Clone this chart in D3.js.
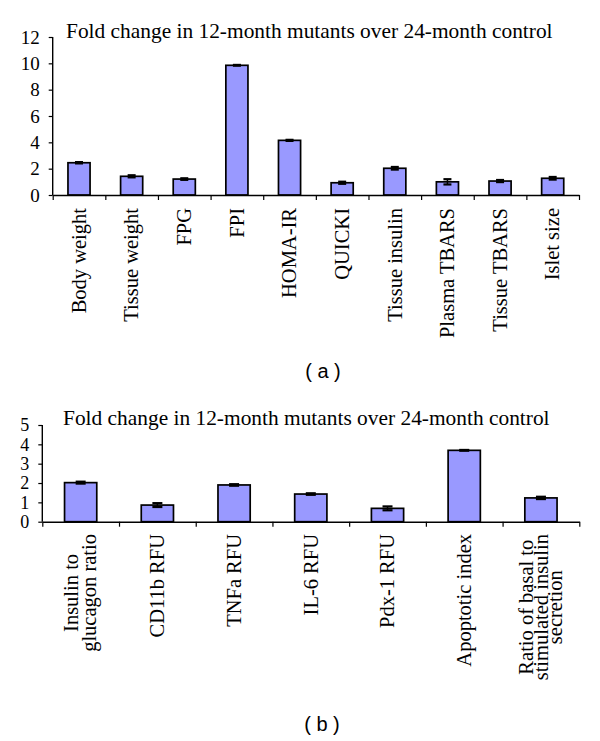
<!DOCTYPE html>
<html>
<head>
<meta charset="utf-8">
<script src="https://cdn.jsdelivr.net/npm/d3@7"></script>
<style>
  html, body { margin: 0; padding: 0; background: #fff; }
  svg { display: block; }
  text { font-family: "Liberation Serif", "Times New Roman", serif; fill: #000; }
  .panel-tag { font-family: "Liberation Sans", Arial, sans-serif; }
</style>
</head>
<body>
<svg id="chart" width="600" height="741"></svg>
<script>
// ---------- data ----------
const titleText = "Fold change in 12-month mutants over 24-month control";

const categoriesA = ["Body weight", "Tissue weight", "FPG", "FPI", "HOMA-IR", "QUICKI",
  "Tissue insulin", "Plasma TBARS", "Tissue TBARS", "Islet size"];
const valuesA = [2.45, 1.42, 1.21, 9.85, 4.15, 0.93, 2.03, 1.00, 1.06, 1.27];
const errorsA = [0.05, 0.08, 0.06, 0.03, 0.04, 0.08, 0.10, 0.20, 0.08, 0.10];
const ticksA = [0, 2, 4, 6, 8, 10, 12];

const categoriesB = ["Insulin to\nglucagon ratio", "CD11b RFU", "TNFa RFU", "IL-6 RFU",
  "Pdx-1 RFU", "Apoptotic index", "Ratio of basal to\nstimulated insulin\nsecretion"];
const valuesB = [2.02, 0.86, 1.90, 1.43, 0.69, 3.69, 1.23];
const errorsB = [0.05, 0.10, 0.04, 0.04, 0.10, 0.02, 0.06];
const ticksB = [0, 1, 2, 3, 4, 5];

// ---------- drawing ----------
const svg = d3.select("#chart");
const BAR_FILL = "#9999ff";
const SERIF = '"Liberation Serif", "Times New Roman", serif';

function drawPanel(cfg) {
  const g = svg.append("g");
  const x = d3.scaleBand().domain(cfg.cats.map((c, i) => i))
    .range([cfg.x0, cfg.x1]).paddingInner(0.58).paddingOuter(0.29);
  const y = d3.scaleLinear().domain([0, cfg.ymax]).range([cfg.yBase, cfg.yTop]);

  // bars
  g.selectAll("rect.bar").data(cfg.vals).join("rect")
    .attr("class", "bar")
    .attr("x", (d, i) => x(i))
    .attr("width", x.bandwidth())
    .attr("y", d => y(d))
    .attr("height", d => y(0) - y(d))
    .attr("fill", BAR_FILL)
    .attr("stroke", "#000")
    .attr("stroke-width", 1.7);

  // error bars
  const eb = g.selectAll("g.err").data(cfg.vals).join("g").attr("class", "err");
  const cap = cfg.cap;
  eb.append("line")
    .attr("x1", (d, i) => x(i) + x.bandwidth() / 2)
    .attr("x2", (d, i) => x(i) + x.bandwidth() / 2)
    .attr("y1", (d, i) => y(d - cfg.errs[i]))
    .attr("y2", (d, i) => y(d + cfg.errs[i]))
    .attr("stroke", "#000").attr("stroke-width", 1.5);
  [-1, 1].forEach(s => {
    eb.append("line")
      .attr("x1", (d, i) => x(i) + x.bandwidth() / 2 - cap / 2)
      .attr("x2", (d, i) => x(i) + x.bandwidth() / 2 + cap / 2)
      .attr("y1", (d, i) => y(d + s * cfg.errs[i]))
      .attr("y2", (d, i) => y(d + s * cfg.errs[i]))
      .attr("stroke", "#000").attr("stroke-width", 2.2);
  });

  // y axis
  const yAxis = d3.axisLeft(y).tickValues(cfg.ticks).tickFormat(d3.format("d"))
    .tickSize(4).tickSizeOuter(0).tickPadding(cfg.tickPad);
  const ya = g.append("g").attr("transform", `translate(${cfg.x0},0)`).call(yAxis)
    .attr("font-family", SERIF).attr("font-size", cfg.tickFont);
  ya.select(".domain").attr("stroke", "#000").attr("stroke-width", 1.4)
    .attr("d", `M0,${y(0)}V${y(cfg.ymax)}`);
  ya.selectAll(".tick line").attr("stroke", "#000").attr("stroke-width", 1.2);
  ya.selectAll(".tick text")
    .style("font-family", SERIF)
    .style("font-size", cfg.tickFont + "px").attr("fill", "#000");

  // x axis with ticks at band boundaries
  const bx = d3.scaleLinear().domain([0, cfg.cats.length]).range([cfg.x0, cfg.x1]);
  const xAxis = d3.axisBottom(bx).tickValues(d3.range(0, cfg.cats.length + 1))
    .tickSize(5).tickSizeOuter(0).tickFormat("");
  const xa = g.append("g").attr("transform", `translate(0,${y(0)})`).call(xAxis);
  xa.select(".domain").attr("stroke", "#000").attr("stroke-width", 1.4);
  xa.selectAll(".tick line").attr("stroke", "#000").attr("stroke-width", 1.2);

  // rotated category labels
  cfg.cats.forEach((c, i) => {
    const lines = c.split("\n");
    const cx = x(i) + x.bandwidth() / 2;
    const lg = g.append("g").attr("transform", `translate(${cx},${cfg.labelTop}) rotate(-90)`);
    const lh = lines.length > 2 ? cfg.lineH3 : cfg.lineH2;
    const texts = lines.map((ln, k) => lg.append("text")
      .style("font-family", SERIF)
      .attr("font-size", cfg.labelFont)
      .attr("y", (k - (lines.length - 1) / 2) * lh)
      .attr("dy", "0.33em")
      .text(ln));
    const maxLen = d3.max(texts, t => t.node().getComputedTextLength());
    texts.forEach(t => t.attr("text-anchor", "middle").attr("x", -maxLen / 2));
  });

  // title
  g.append("text").attr("x", cfg.titleX).attr("y", cfg.titleY)
    .style("font-family", SERIF)
    .attr("font-size", cfg.titleFont).text(titleText);

  // panel tag
  g.append("text").attr("class", "panel-tag")
    .attr("x", cfg.tagX).attr("y", cfg.tagY)
    .attr("text-anchor", "middle").attr("font-size", 20)
    .text(cfg.tag);
}

drawPanel({
  cats: categoriesA, vals: valuesA, errs: errorsA, ticks: ticksA, ymax: 12,
  x0: 52.7, x1: 579, yBase: 195, yTop: 37,
  cap: 8, tickFont: 19, tickPad: 9,
  labelTop: 208, labelFont: 20.5, lineH2: 18, lineH3: 14.5,
  titleX: 66, titleY: 37.5, titleFont: 21.4,
  tag: "( a )", tagX: 323, tagY: 378
});

drawPanel({
  cats: categoriesB, vals: valuesB, errs: errorsB, ticks: ticksB, ymax: 5,
  x0: 42.3, x1: 579.3, yBase: 521.7, yTop: 425,
  cap: 10, tickFont: 18, tickPad: 9,
  labelTop: 534, labelFont: 20.5, lineH2: 18, lineH3: 14.5,
  titleX: 63, titleY: 425, titleFont: 21.4,
  tag: "( b )", tagX: 322, tagY: 731
});
</script>
</body>
</html>
